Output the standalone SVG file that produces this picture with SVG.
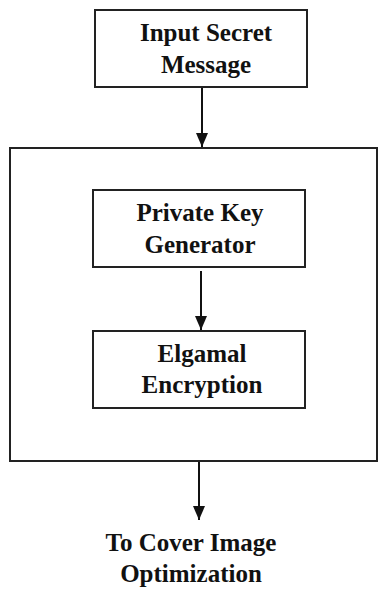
<svg xmlns="http://www.w3.org/2000/svg" width="379" height="590" viewBox="0 0 379 590">
  <defs>
    <marker id="arrow" viewBox="0 0 14 12" refX="14" refY="6" markerWidth="14" markerHeight="12" markerUnits="userSpaceOnUse" orient="auto">
      <path d="M0,0 L14,6 L0,12 Z" fill="#111"/>
    </marker>
  </defs>
  <style>
    .box { fill: #fff; stroke: #222; stroke-width: 2; }
    .frame { fill: none; stroke: #222; stroke-width: 2; }
    .lbl { font-family: "Liberation Serif", "Times New Roman", serif; font-weight: bold; font-size: 25px; fill: #111; text-anchor: middle; }
    .edge { stroke: #111; stroke-width: 2; fill: none; }
  </style>
  <rect width="379" height="590" fill="#fff"/>

  <!-- enclosing process frame -->
  <g id="process-frame">
    <rect class="frame" x="10" y="148" width="367" height="313"/>
  </g>

  <g id="input">
    <rect class="box" x="95" y="10" width="212" height="77"/>
    <text class="lbl" x="206" y="41">Input Secret</text>
    <text class="lbl" x="206" y="73">Message</text>
  </g>

  <g id="keygen">
    <rect class="box" x="93" y="190" width="212" height="77"/>
    <text class="lbl" x="200" y="221">Private Key</text>
    <text class="lbl" x="200" y="253">Generator</text>
  </g>

  <g id="encryption">
    <rect class="box" x="93" y="331" width="212" height="77"/>
    <text class="lbl" x="202" y="362">Elgamal</text>
    <text class="lbl" x="202" y="393">Encryption</text>
  </g>

  <g id="output">
    <text class="lbl" x="191" y="551">To Cover Image</text>
    <text class="lbl" x="191" y="582">Optimization</text>
  </g>

  <g id="connectors">
    <line class="edge" x1="202" y1="88" x2="202" y2="147" marker-end="url(#arrow)"/>
    <line class="edge" x1="201" y1="271" x2="201" y2="330" marker-end="url(#arrow)"/>
    <line class="edge" x1="199" y1="462" x2="199" y2="520" marker-end="url(#arrow)"/>
  </g>
</svg>
